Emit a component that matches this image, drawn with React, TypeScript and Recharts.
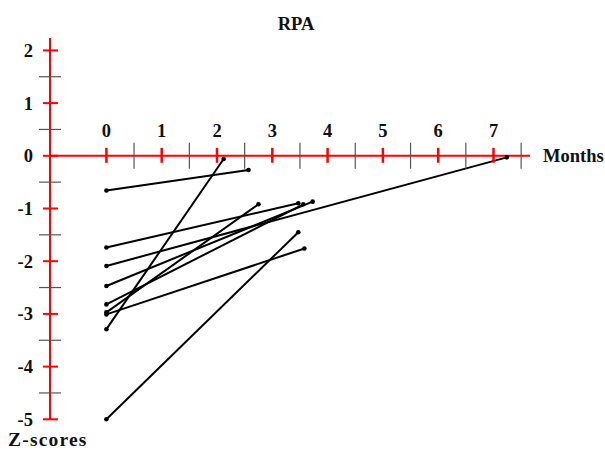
import React from 'react';
import { LineChart, Line, XAxis, YAxis, ReferenceLine, ReferenceDot } from 'recharts';

// Each patient: a segment from the first visit (month 0) to the follow-up visit
const startMonth = [0, 0, 0, 0, 0, 0, 0, 0, 0];
const startZ = [-0.66, -1.74, -2.09, -2.47, -2.82, -2.97, -3.01, -3.29, -5.0];
const endMonth = [2.57, 3.47, 7.24, 3.73, 3.56, 2.75, 3.58, 2.12, 3.47];
const endZ = [-0.27, -0.9, -0.03, -0.87, -0.92, -0.92, -1.76, -0.06, -1.45];

const monthTicks = [0, 1, 2, 3, 4, 5, 6, 7];
const halfMonthTicks = [0.5, 1.5, 2.5, 3.5, 4.5, 5.5, 6.5, 7.5];
const zTicks = [-5, -4, -3, -2, -1, 0, 1, 2];
const halfZTicks = [-4.5, -3.5, -2.5, -1.5, -0.5, 0.5, 1.5];

const patients = startZ.map((z, i) => [
  { m: startMonth[i], z },
  { m: endMonth[i], z: endZ[i] },
]);

const FONT = '"Liberation Serif", "Times New Roman", Times, serif';
const RED = '#ff0000';
const GREY = '#555555';
const INK = '#111111';

const YTick = (props: any) => {
  const { x, y, payload } = props;
  const v = payload.value;
  const major = Number.isInteger(v);
  return (
    <g>
      {major ? (
        <line x1={x - 7} x2={x + 8} y1={y} y2={y} stroke={RED} strokeWidth={2} />
      ) : (
        <line x1={x - 11} x2={x + 11} y1={y} y2={y} stroke={GREY} strokeWidth={1.2} />
      )}
      {major && (
        <text x={x - 17} y={y + 6.5} textAnchor="end" fontFamily={FONT} fontWeight="bold" fontSize={18.5} fill={INK}>
          {v}
        </text>
      )}
    </g>
  );
};

const MonthTick = ({ cx, cy, m }: any) => (
  <g>
    <line x1={cx} x2={cx} y1={cy - 8} y2={cy + 7} stroke={RED} strokeWidth={2.5} />
    <text x={cx} y={cy - 18.3} textAnchor="middle" fontFamily={FONT} fontWeight="bold" fontSize={18.5} fill={INK}>
      {m}
    </text>
  </g>
);

const HalfMonthTick = ({ cx, cy }: any) => (
  <line x1={cx} x2={cx} y1={cy - 13} y2={cy + 13} stroke={GREY} strokeWidth={1.2} />
);

export default function App() {
  const allZTicks = [...zTicks, ...halfZTicks].sort((a, b) => a - b);
  return (
    <div style={{ position: 'absolute', left: 0, top: 0, width: 605, height: 450, background: '#fff' }}>
      <LineChart width={605} height={450} margin={{ top: 38, right: 75, bottom: 30.7, left: 0 }}>
        <XAxis type="number" dataKey="m" domain={[-1.02, 7.66]} hide />
        <YAxis
          type="number"
          domain={[-5, 2.235]}
          ticks={allZTicks}
          interval={0}
          width={50}
          tickLine={false}
          tickSize={0}
          tickMargin={0}
          axisLine={{ stroke: RED, strokeWidth: 2 }}
          tick={<YTick />}
        />
        <ReferenceLine
          y={0}
          stroke={RED}
          strokeWidth={2}
          label={{
            value: 'Months',
            position: 'right',
            offset: 13,
            fill: INK,
            fontFamily: FONT,
            fontWeight: 'bold',
            fontSize: 18.5,
          }}
        />
        {halfMonthTicks.map((m) => (
          <ReferenceDot key={'h' + m} x={m} y={0} r={0} shape={(p: any) => <HalfMonthTick cx={p.cx} cy={p.cy} />} />
        ))}
        {monthTicks.map((m) => (
          <ReferenceDot key={'m' + m} x={m} y={0} r={0} shape={(p: any) => <MonthTick cx={p.cx} cy={p.cy} m={m} />} />
        ))}
        {patients.map((d, i) => (
          <Line
            key={i}
            data={d}
            dataKey="z"
            type="linear"
            stroke="#000"
            strokeWidth={2}
            dot={{ r: 2.3, fill: '#000', stroke: '#000', strokeWidth: 0 }}
            activeDot={false}
            isAnimationActive={false}
          />
        ))}
      </LineChart>
      <svg width={605} height={450} style={{ position: 'absolute', left: 0, top: 0, pointerEvents: 'none' }}>
        <text x={296} y={30} textAnchor="middle" fontFamily={FONT} fontWeight="bold" fontSize={18.5} fill={INK}>
          RPA
        </text>
        <text x={8} y={446} fontFamily={FONT} fontWeight="bold" fontSize={19.5} letterSpacing={1.2} fill={INK}>
          Z-scores
        </text>
      </svg>
    </div>
  );
}
